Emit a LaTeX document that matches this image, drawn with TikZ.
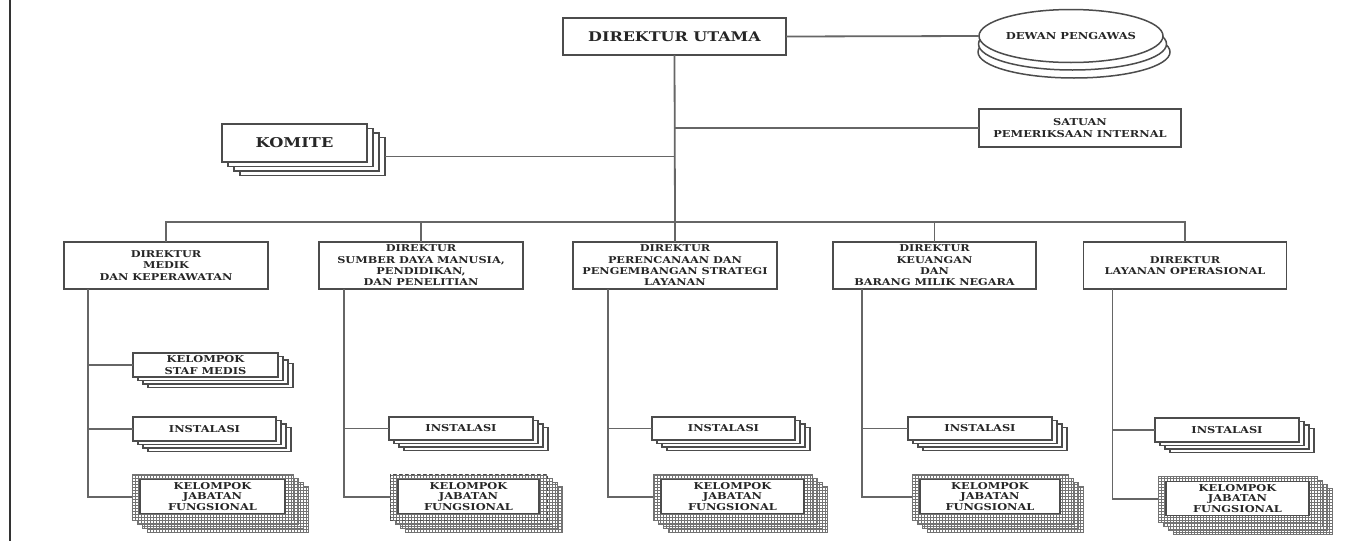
\documentclass[tikz,border=0pt]{standalone}
\usepackage{fontspec}
\usetikzlibrary{patterns,shapes.geometric,calc}
\newfontfamily\bk[FakeStretch=1.2]{DejaVu Serif}
\newcommand\smallfont{\bk\bfseries\fontsize{9.5}{12}\selectfont}
\newcommand\kjffont{\bk\bfseries\fontsize{9.5}{10.6}\selectfont}
\newcommand\dirfont{\bk\bfseries\fontsize{9.4}{11.3}\selectfont}
\newcommand\bigfont{\bk\bfseries\fontsize{13.3}{15}\selectfont}
\tikzset{
  conn/.style={draw=black!60, line width=1.8pt},
  box/.style={draw=black!70, line width=1.5pt, fill=white, inner sep=0pt, outer sep=0pt, align=center, text=black!85},
  hatch/.style={draw=black!55, line width=0.7pt, preaction={fill=white}, pattern=grid, pattern color=black!55, inner sep=0pt, outer sep=0pt},
}
% name x1 y1 x2 y2 dx dy font text
\newcommand\stackbox[9]{%
  \foreach \k in {3,2,1}{%
    \node[box, minimum width={(#4-#2)*1pt}, minimum height={(#5-#3)*1pt}] (#1-\k) at ({(#2+#4)/2+#6*\k},{(#3+#5)/2+#7*\k}) {};}
  \node[box, font=#8, minimum width={(#4-#2)*1pt}, minimum height={(#5-#3)*1pt}] (#1) at ({(#2+#4)/2},{(#3+#5)/2}) {#9};
}
% name x1 y1 x2 y2 extra text
\newcommand\kjfbox[7]{%
  \foreach \k in {3,2,1}{%
    \node[hatch, minimum width={(#4-#2)*1pt}, minimum height={(#5-#3)*1pt}] (#1-\k) at ({(#2+#4)/2+5*\k},{(#3+#5)/2+4*\k}) {};}
  \node[hatch, #6, minimum width={(#4-#2)*1pt}, minimum height={(#5-#3)*1pt}] (#1) at ({(#2+#4)/2},{(#3+#5)/2}) {};
  \node[box, font=\kjffont, minimum width={(#4-#2-16)*1pt}, minimum height={(#5-#3-12)*1pt}] (#1-in) at ($(#1.center)+(0,-0.5)$) {#7};
}
\begin{document}
\begin{tikzpicture}[x=1pt,y=-1pt]
\useasboundingbox (0,0) rectangle (1351,541);
\fill[white] (0,0) rectangle (1351,541);
\draw[line width=2.2pt, black!80] (10,0) -- (10,541);

% top level
\node[box, font=\bigfont, minimum width=223pt, minimum height=37pt] (du) at (674.5,36.5) {DIREKTUR UTAMA};
\draw[box] (1074,52) ellipse [x radius=96, y radius=26];
\draw[box] (1072.5,44) ellipse [x radius=94, y radius=26];
\node[box, ellipse, font=\bk\bfseries\fontsize{9.6}{11}\selectfont, minimum width=184pt, minimum height=53pt] (dp) at (1071,36) {DEWAN PENGAWAS};
\node[box, font=\smallfont, minimum width=202pt, minimum height=38pt] (sat) at (1080,128) {SATUAN\\PEMERIKSAAN INTERNAL};
\stackbox{km}{222}{124}{367}{162}{6}{4.5}{\bk\bfseries\fontsize{13.5}{15}\selectfont}{KOMITE}

\coordinate (bus) at (675,222);
\draw[conn] (du.east) -- (dp.west);
\draw[conn] (du.south) -- (bus);
\draw[conn] (du.south |- sat.west) -- (sat.west);
\draw[conn] (km-3.east) -- (du.south |- km-3.east);

% directors
\node[box, font=\dirfont, minimum width=204pt, minimum height=47pt] (med) at (166,265.5) {DIREKTUR\\MEDIK\\DAN KEPERAWATAN};
\node[box, font=\dirfont, minimum width=204pt, minimum height=47pt] (sdm) at (421,265.5) {DIREKTUR\\SUMBER DAYA MANUSIA,\\PENDIDIKAN,\\DAN PENELITIAN};
\node[box, font=\dirfont, minimum width=204pt, minimum height=47pt] (per) at (675,265.5) {DIREKTUR\\PERENCANAAN DAN\\PENGEMBANGAN STRATEGI\\LAYANAN};
\node[box, font=\dirfont, minimum width=203pt, minimum height=47pt] (keu) at (934.5,265.5) {DIREKTUR\\KEUANGAN\\DAN\\BARANG MILIK NEGARA};
\node[box, font=\dirfont, minimum width=203pt, minimum height=47pt] (lay) at (1185,265.5) {DIREKTUR\\LAYANAN OPERASIONAL};

\draw[conn] (med.north) -- (med.north |- bus) -- (lay.north |- bus) -- (lay.north);
\foreach \n in {sdm,per,keu} \draw[conn] (\n.north) -- (\n.north |- bus);

% units
\stackbox{ksm}{133}{353}{278}{377}{5}{3.5}{\smallfont}{KELOMPOK\\STAF MEDIS}
\stackbox{in1}{133}{417}{276}{441}{5}{3.5}{\smallfont}{INSTALASI}
\stackbox{in2}{389}{417}{533}{440}{5}{3.5}{\smallfont}{INSTALASI}
\stackbox{in3}{652}{417}{795}{440}{5}{3.5}{\smallfont}{INSTALASI}
\stackbox{in4}{908}{417}{1052}{440}{5}{3.5}{\smallfont}{INSTALASI}
\stackbox{in5}{1155}{418}{1299}{442}{5}{3.5}{\smallfont}{INSTALASI}

\kjfbox{kj1}{132}{474}{293}{520}{}{KELOMPOK\\JABATAN\\FUNGSIONAL}
\kjfbox{kj2}{390}{474}{547}{520}{dashed, draw=black!70, line width=1pt}{KELOMPOK\\JABATAN\\FUNGSIONAL}
\kjfbox{kj3}{653}{474}{812}{520}{}{KELOMPOK\\JABATAN\\FUNGSIONAL}
\kjfbox{kj4}{912}{474}{1068}{520}{}{KELOMPOK\\JABATAN\\FUNGSIONAL}
\kjfbox{kj5}{1158}{476}{1317}{522}{}{KELOMPOK\\JABATAN\\FUNGSIONAL}

\coordinate (a1) at ($(med.south west)+(24,0)$);
\coordinate (a2) at ($(sdm.south west)+(25,0)$);
\coordinate (a3) at ($(per.south west)+(35,0)$);
\coordinate (a4) at ($(keu.south west)+(29,0)$);
\coordinate (a5) at ($(lay.south west)+(29,0)$);

\draw[conn] (a1) |- (kj1.west);
\draw[conn] (a1 |- ksm.west) -- (ksm.west);
\draw[conn] (a1 |- in1.west) -- (in1.west);
\draw[conn] (a2) |- (kj2.west);
\draw[conn] (a2 |- in2.west) -- (in2.west);
\draw[conn] (a3) |- (kj3.west);
\draw[conn] (a3 |- in3.west) -- (in3.west);
\draw[conn] (a4) |- (kj4.west);
\draw[conn] (a4 |- in4.west) -- (in4.west);
\draw[conn] (a5) |- (kj5.west);
\draw[conn] (a5 |- in5.west) -- (in5.west);
\end{tikzpicture}
\end{document}
